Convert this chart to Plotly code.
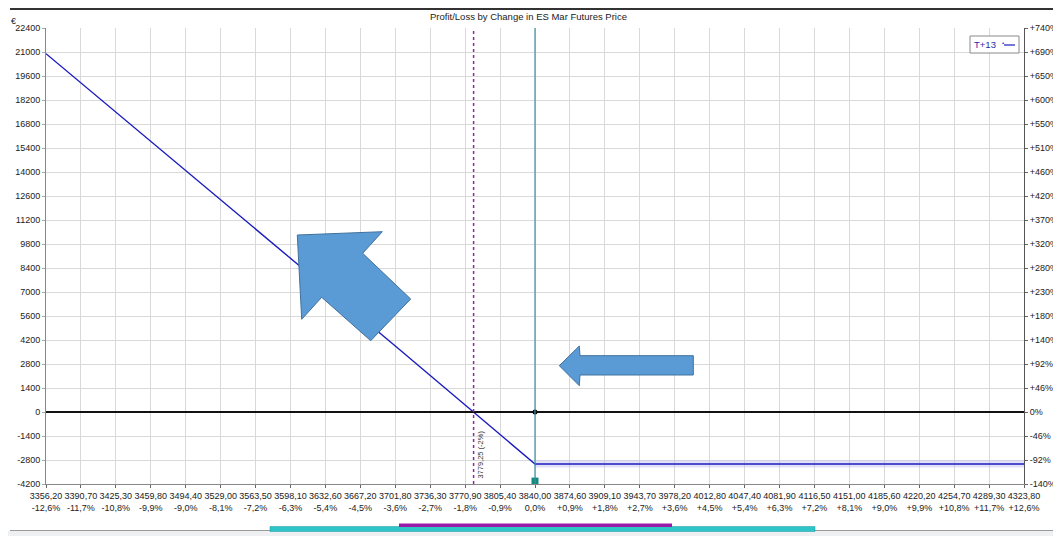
import plotly.graph_objects as go

# ---- data ----
prices = [3356.2, 3425.3, 3494.4, 3563.5, 3632.6, 3701.8, 3770.9, 3779.25, 3805.4, 3840.0, 4323.8]
pnl = [20900, 17500, 14100, 10700, 7250, 3850, 410, 0, -1300, -3037, -3037]
flat_prices = [3840.0, 4323.8]
flat_pnl = [-3037, -3037]
strike = 3840.0
breakeven = 3779.25
breakeven_label = "3779,25 (-2%)"

x_tickvals = [3356.2, 3390.7, 3425.3, 3459.8, 3494.4, 3529.0, 3563.5, 3598.1, 3632.6, 3667.2,
              3701.8, 3736.3, 3770.9, 3805.4, 3840.0, 3874.6, 3909.1, 3943.7, 3978.2, 4012.8,
              4047.4, 4081.9, 4116.5, 4151.0, 4185.6, 4220.2, 4254.7, 4289.3, 4323.8]
x_price_labels = ["3356,20", "3390,70", "3425,30", "3459,80", "3494,40", "3529,00", "3563,50",
                  "3598,10", "3632,60", "3667,20", "3701,80", "3736,30", "3770,90", "3805,40",
                  "3840,00", "3874,60", "3909,10", "3943,70", "3978,20", "4012,80", "4047,40",
                  "4081,90", "4116,50", "4151,00", "4185,60", "4220,20", "4254,70", "4289,30",
                  "4323,80"]
x_pct_labels = ["-12,6%", "-11,7%", "-10,8%", "-9,9%", "-9,0%", "-8,1%", "-7,2%", "-6,3%",
                "-5,4%", "-4,5%", "-3,6%", "-2,7%", "-1,8%", "-0,9%", "0,0%", "+0,9%", "+1,8%",
                "+2,7%", "+3,6%", "+4,5%", "+5,4%", "+6,3%", "+7,2%", "+8,1%", "+9,0%",
                "+9,9%", "+10,8%", "+11,7%", "+12,6%"]
y_tickvals = [22400, 21000, 19600, 18200, 16800, 15400, 14000, 12600, 11200, 9800, 8400,
              7000, 5600, 4200, 2800, 1400, 0, -1400, -2800, -4200]
y_pct_labels = ["+740%", "+690%", "+650%", "+600%", "+550%", "+510%", "+460%", "+420%",
                "+370%", "+320%", "+280%", "+230%", "+180%", "+140%", "+92%", "+46%", "0%",
                "-46%", "-92%", "-140%"]
y_range = [-4200, 22400]
x_range = [3356.2, 4323.8]

# ---- layout geometry (pixels) ----
# the page body has an 8px margin, so the figure is drawn from (8, 8) in the window
OFF = 8
W, H = 1061 - OFF, 536 - OFF
L, R, T, B = 46 - OFF, 37, 28 - OFF, 52
PW, PH = W - L - R, H - T - B


def px(x):
    """window pixel x -> paper coordinate"""
    return (x - OFF - L) / PW


def py(y):
    """window pixel y -> paper coordinate"""
    return (H - B - (y - OFF)) / PH


def poly(points):
    return "M " + " L ".join(f"{px(a):.5f},{py(b):.5f}" for a, b in points) + " Z"


FONT = "Liberation Sans, Arial, sans-serif"

fig = go.Figure()

# light band around flat part
fig.add_trace(go.Scatter(x=flat_prices, y=flat_pnl, mode="lines",
                         line=dict(color="rgba(170,170,235,0.35)", width=7),
                         hoverinfo="skip", showlegend=False))
# main P/L line
fig.add_trace(go.Scatter(x=prices, y=pnl, mode="lines", name="T+13",
                         line=dict(color="#1c1cc0", width=1.4), showlegend=False))
# markers
fig.add_trace(go.Scatter(x=[strike], y=[0], mode="markers",
                         marker=dict(color="black", size=5), showlegend=False))
fig.add_trace(go.Scatter(x=[strike], y=[-4030], mode="markers",
                         marker=dict(color="#138a7c", size=7, symbol="square"), showlegend=False))
fig.add_trace(go.Scatter(x=[strike], y=[-4380], mode="markers", cliponaxis=False,
                         marker=dict(color="black", size=5, symbol="triangle-up"), showlegend=False))
# invisible trace for secondary axis
fig.add_trace(go.Scatter(x=[x_range[0]], y=[0], yaxis="y2", mode="markers",
                         marker=dict(opacity=0), hoverinfo="skip", showlegend=False))

shapes = []
# zero line
shapes.append(dict(type="line", xref="paper", x0=0, x1=1, yref="y", y0=0, y1=0,
                   line=dict(color="#111111", width=2.2)))
# strike line
shapes.append(dict(type="line", xref="x", x0=strike, x1=strike, yref="paper", y0=0, y1=1,
                   line=dict(color="#3d8ea6", width=1.2)))
# breakeven dotted line
shapes.append(dict(type="line", xref="x", x0=breakeven, x1=breakeven, yref="paper", y0=0, y1=1,
                   line=dict(color="#8a2a9a", width=1.5, dash="dot")))
# top rule
shapes.append(dict(type="line", xref="paper", yref="paper", x0=px(10), x1=px(1056),
                   y0=py(9), y1=py(9), line=dict(color="#333333", width=2)))
# bottom rule + range bars
shapes.append(dict(type="rect", xref="paper", yref="paper", x0=px(8), x1=px(1061),
                   y0=py(536), y1=py(531), fillcolor="#eef0f2", line=dict(width=0)))
shapes.append(dict(type="line", xref="paper", yref="paper", x0=px(10), x1=px(1061),
                   y0=py(530.5), y1=py(530.5), line=dict(color="#9a9a9a", width=1.2)))
shapes.append(dict(type="rect", xref="paper", yref="paper", x0=px(270), x1=px(815),
                   y0=py(531.5), y1=py(526.5), fillcolor="#2ec4c8", line=dict(color="#1a9aa0", width=0.5)))
shapes.append(dict(type="rect", xref="paper", yref="paper", x0=px(399), x1=px(672),
                   y0=py(527), y1=py(523.5), fillcolor="#9a1aa8", line=dict(width=0)))
# block arrows
arrow1 = [(297.3, 235), (382.3, 231.7), (362.7, 253.3), (410.7, 299), (370.7, 340.7),
          (321.7, 297.3), (301.7, 319.3)]
arrow2 = [(559.3, 365.7), (579.3, 346), (580, 355.7), (693.3, 355.7), (693.3, 375),
          (580, 375), (579.3, 385.7)]
for a in (arrow1, arrow2):
    shapes.append(dict(type="path", xref="paper", yref="paper", path=poly(a),
                       fillcolor="#5b9bd5", line=dict(color="#41719c", width=1)))
# legend box
shapes.append(dict(type="rect", xref="paper", yref="paper", x0=px(970), x1=px(1019),
                   y0=py(53), y1=py(36), fillcolor="white",
                   line=dict(color="#8a8a8a", width=1)))
shapes.append(dict(type="line", xref="paper", yref="paper", x0=px(1004), x1=px(1015),
                   y0=py(45), y1=py(45), line=dict(color="#1c1cc0", width=1.2)))


def ann(text, x, y, size, color="#222", **kw):
    d = dict(text=text, xref="paper", yref="paper", x=px(x), y=py(y), showarrow=False,
             xanchor="center", yanchor="middle", font=dict(family=FONT, size=size, color=color))
    d.update(kw)
    return d


annotations = [
    ann("Profit/Loss by Change in ES Mar Futures Price", 528, 17, 9.5),
    ann("€", 13, 21, 9),
    ann("T+13", 985, 44.5, 9.5, "#2a2aa8"),
    ann("•", 1003, 43, 6, "#1c1cc0"),
    dict(text=breakeven_label, xref="x", x=breakeven, xshift=6, yref="paper", y=py(455),
         xanchor="center", yanchor="middle",
         textangle=-90, showarrow=False, font=dict(family=FONT, size=7.5, color="#333")),
]

fig.update_layout(
    width=W, height=H,
    margin=dict(l=L, r=R, t=T, b=B, pad=0),
    paper_bgcolor="white", plot_bgcolor="white",
    font=dict(family=FONT, size=9, color="#222"),
    showlegend=False,
    shapes=shapes, annotations=annotations,
    xaxis=dict(range=x_range, tickvals=x_tickvals, automargin=False,
               ticktext=[f"{a}<br>{b}" for a, b in zip(x_price_labels, x_pct_labels)],
               showgrid=True, gridcolor="#d9d9d9", gridwidth=1, zeroline=False,
               showline=True, linecolor="#888888", linewidth=1, ticks="outside",
               ticklen=3, tickcolor="#666", tickfont=dict(size=9), tickangle=0),
    yaxis=dict(range=y_range, tickvals=y_tickvals, ticktext=[str(v) for v in y_tickvals],
               automargin=False,
               showgrid=True, gridcolor="#d9d9d9", gridwidth=1, zeroline=False,
               showline=True, linecolor="#888888", linewidth=1, ticks="outside",
               ticklen=3, tickcolor="#aaa", tickfont=dict(size=9)),
    yaxis2=dict(range=y_range, overlaying="y", side="right", tickvals=y_tickvals,
                automargin=False,
                ticktext=y_pct_labels, showgrid=False, zeroline=False, showline=True,
                linecolor="#555555", linewidth=1, ticks="outside", ticklen=3,
                tickcolor="#666", tickfont=dict(size=9)),
)

fig.write_html("out.html")
